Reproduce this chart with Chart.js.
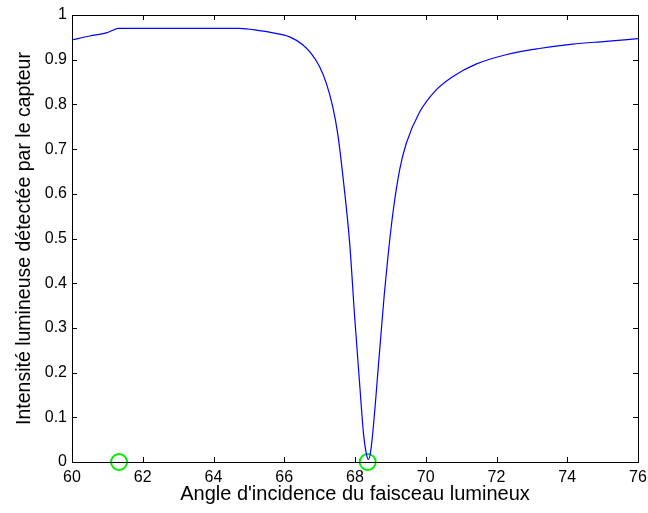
<!DOCTYPE html>
<html>
<head>
<meta charset="utf-8">
<script src="https://cdn.jsdelivr.net/npm/chart.js@4.4.0/dist/chart.umd.min.js"></script>
<style>
  html, body { margin: 0; padding: 0; background: #fff; }
  #wrap { width: 648px; height: 513px; }
</style>
</head>
<body>
<div id="wrap"><canvas id="courbe"></canvas></div>
<script>
// angle d'incidence (degrés) et intensité
const angles = [60.0, 60.5, 60.97, 61.16, 61.25, 61.3, 62, 63, 64, 64.74, 65.3, 65.68, 66.15, 66.53, 66.76, 67.0, 67.19, 67.37, 67.51, 67.65, 67.85, 67.99, 68.13, 68.24, 68.32, 68.38, 68.46, 68.69, 68.83, 68.94, 69.07, 69.26, 69.45, 69.82, 70.29, 70.76, 71.42, 72.27, 73.21, 74.15, 75.1, 76.0];
const intensite = [0.944, 0.953, 0.960, 0.966, 0.969, 0.970, 0.970, 0.970, 0.970, 0.970, 0.965, 0.960, 0.951, 0.933, 0.914, 0.884, 0.847, 0.795, 0.735, 0.645, 0.489, 0.325, 0.176, 0.064, 0.019, 0.006, 0.034, 0.243, 0.377, 0.466, 0.556, 0.653, 0.713, 0.782, 0.832, 0.862, 0.890, 0.911, 0.925, 0.935, 0.941, 0.947];

// cercles verts (angle critique et minimum de résonance)
const angleMarques = [61.33, 68.36];
const valeurMarques = [0, 0];

const police = 'Liberation Sans, Arial, sans-serif';

// petits traits vers l'intérieur sur les quatre côtés + cadre
const cadrePlugin = {
    id: 'cadre',
    afterDraw(chart) {
        const ctx = chart.ctx;
        const a = chart.chartArea;
        const sx = chart.scales.x;
        const sy = chart.scales.y;
        const L = 5;
        ctx.save();
        ctx.strokeStyle = '#000';
        ctx.lineWidth = 1;
        ctx.beginPath();
        sx.ticks.forEach(t => {
            const px = Math.round(sx.getPixelForValue(t.value)) + 0.5;
            ctx.moveTo(px, a.bottom); ctx.lineTo(px, a.bottom - L);
            ctx.moveTo(px, a.top); ctx.lineTo(px, a.top + L);
        });
        sy.ticks.forEach(t => {
            const py = Math.round(sy.getPixelForValue(t.value)) + 0.5;
            ctx.moveTo(a.left, py); ctx.lineTo(a.left + L, py);
            ctx.moveTo(a.right, py); ctx.lineTo(a.right - L, py);
        });
        ctx.stroke();
        ctx.strokeRect(Math.round(a.left) + 0.5, Math.round(a.top) + 0.5, Math.round(a.right - a.left), Math.round(a.bottom - a.top));
        ctx.restore();
    }
};

const ctx = document.getElementById('courbe').getContext('2d');
const graphique = new Chart(ctx, {
    type: 'line',
    data: {
        datasets: [{
            data: angles.map((a, i) => ({ x: a, y: intensite[i] })),
            borderColor: '#0000ff',
            borderWidth: 1.2,
            pointRadius: 0,
            cubicInterpolationMode: 'monotone',
            fill: false
        }, {
            type: 'scatter',
            data: angleMarques.map((a, i) => ({ x: a, y: valeurMarques[i] })),
            showLine: false,
            pointStyle: 'circle',
            pointRadius: 8,
            borderColor: '#00ee00',
            backgroundColor: 'rgba(0,0,0,0)',
            pointBorderWidth: 2,
            clip: false
        }]
    },
    options: {
        responsive: true,
        maintainAspectRatio: false,
        animation: false,
        layout: { padding: { top: 15, right: 9, left: 0, bottom: 0 } },
        plugins: {
            legend: { display: false },
            tooltip: { enabled: false }
        },
        scales: {
            x: {
                type: 'linear',
                min: 60,
                max: 76,
                ticks: { stepSize: 2, color: '#000', padding: 6, font: { family: police, size: 16 } },
                grid: { display: false, drawTicks: false },
                border: { display: true, color: '#000' },
                title: {
                    display: true,
                    text: "Angle d'incidence du faisceau lumineux",
                    color: '#000',
                    font: { family: police, size: 20 },
                    padding: { top: 0, bottom: 7 }
                },
                afterFit(scale) {
                    scale.height = 51;
                    scale.paddingLeft = 0;
                    scale.paddingRight = 0;
                }
            },
            y: {
                min: 0,
                max: 1,
                ticks: {
                    stepSize: 0.1,
                    color: '#000',
                    padding: 5,
                    font: { family: police, size: 16 },
                    callback: v => String(Number(v.toFixed(1)))
                },
                grid: { display: false, drawTicks: false },
                border: { display: true, color: '#000' },
                title: {
                    display: true,
                    text: 'Intensité lumineuse détectée par le capteur',
                    color: '#000',
                    font: { family: police, size: 19.5 },
                    padding: { top: 13, bottom: 0 }
                },
                afterFit(scale) { scale.width = 72; }
            }
        }
    },
    plugins: [cadrePlugin]
});
</script>
</body>
</html>
